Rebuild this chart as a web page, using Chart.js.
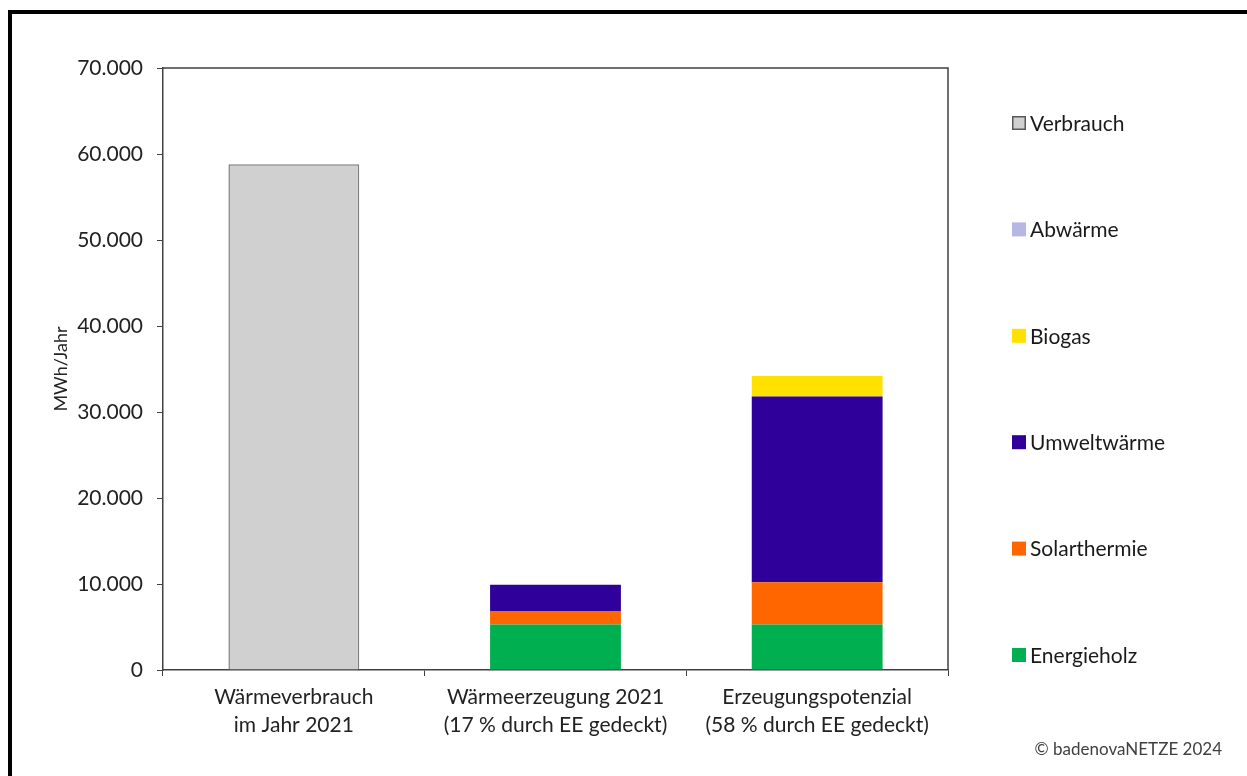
<!DOCTYPE html>
<html>
<head>
<meta charset="utf-8">
<script src="https://cdn.jsdelivr.net/npm/chart.js@4.4.1/dist/chart.umd.min.js"></script>
<style>
  html, body { margin: 0; padding: 0; background: #fff; }
  #wrap { position: relative; width: 1247px; height: 776px; }
</style>
</head>
<body>
<div id="wrap"><canvas id="heatChart"></canvas></div>
<script>
// Data (MWh/Jahr)
const categories = [
    ['Wärmeverbrauch', 'im Jahr 2021'],
    ['Wärmeerzeugung 2021', '(17 % durch EE gedeckt)'],
    ['Erzeugungspotenzial', '(58 % durch EE gedeckt)']
];
const energieholz = [null, 5300, 5300];
const solarthermie = [null, 1500, 4900];
const umweltwaerme = [null, 3100, 21600];
const biogas = [null, 0, 2400];
const abwaerme = [null, 0, 0];
const verbrauch = [58800, null, null];

const yMin = 0;
const yMax = 70000;
const yStep = 10000;
const yTitle = 'MWh/Jahr';
const copyright = '© badenovaNETZE 2024';

const FONT = 'Lato, "Open Sans", sans-serif';
Chart.defaults.font.family = FONT;
Chart.defaults.color = '#222';

// frame, plot box, right-hand legend and copyright
const extras = {
    id: 'extras',
    afterDraw(chart) {
        const { ctx, chartArea: a } = chart;
        ctx.save();

        // outer black frame (left + top)
        ctx.fillStyle = '#000';
        ctx.fillRect(8, 10, 4, 776);
        ctx.fillRect(8, 10, 1247, 4);

        // top + right edge of the plot box
        ctx.strokeStyle = '#404040';
        ctx.lineWidth = 1.5;
        ctx.beginPath();
        ctx.moveTo(a.left, a.top);
        ctx.lineTo(a.right, a.top);
        ctx.lineTo(a.right, a.bottom);
        ctx.stroke();

        // legend, top to bottom = reverse of stack order
        const items = chart.data.datasets.slice().reverse();
        const top = a.top + 55;
        const step = (a.bottom - 15 - top) / (items.length - 1);
        const bx = a.right + 64;
        ctx.font = '21px ' + FONT;
        ctx.textBaseline = 'middle';
        ctx.textAlign = 'left';
        items.forEach((ds, i) => {
            const y = top + i * step;
            ctx.fillStyle = ds.backgroundColor;
            ctx.fillRect(bx, y - 7, 14, 14);
            if (ds.borderWidth) {
                ctx.strokeStyle = '#595959';
                ctx.lineWidth = 1.5;
                ctx.strokeRect(bx + 0.75, y - 6.25, 12.5, 12.5);
            }
            ctx.fillStyle = '#1a1a1a';
            ctx.fillText(ds.label, bx + 18, y + 1);
        });

        // copyright
        ctx.font = '17px ' + FONT;
        ctx.fillStyle = '#404040';
        ctx.textAlign = 'right';
        ctx.fillText(copyright, 1222, 750);
        ctx.restore();
    }
};

const ctx = document.getElementById('heatChart').getContext('2d');
const heatChart = new Chart(ctx, {
    type: 'bar',
    data: {
        labels: categories,
        datasets: [
            { label: 'Energieholz', data: energieholz, backgroundColor: '#00b050' },
            { label: 'Solarthermie', data: solarthermie, backgroundColor: '#ff6600' },
            { label: 'Umweltwärme', data: umweltwaerme, backgroundColor: '#30009a' },
            { label: 'Biogas', data: biogas, backgroundColor: '#ffe100' },
            { label: 'Abwärme', data: abwaerme, backgroundColor: '#b7b7e3' },
            { label: 'Verbrauch', data: verbrauch, backgroundColor: '#d0d0d0',
              borderColor: '#7f7f7f', borderWidth: 1.5, borderSkipped: 'bottom' }
        ]
    },
    options: {
        responsive: true,
        maintainAspectRatio: false,
        animation: false,
        categoryPercentage: 0.5,
        barPercentage: 1,
        layout: {
            padding: { left: 46, top: 68, right: 299, bottom: 0 }
        },
        plugins: {
            legend: { display: false },
            tooltip: { enabled: false }
        },
        scales: {
            x: {
                stacked: true,
                grid: {
                    offset: true,
                    drawOnChartArea: false,
                    tickLength: 6,
                    color: '#404040'
                },
                border: { color: '#404040', width: 1.5 },
                ticks: {
                    padding: 8,
                    maxRotation: 0,
                    color: '#222',
                    font: { size: 21, lineHeight: 1.3 }
                },
                afterFit(scale) { scale.height = 106; }
            },
            y: {
                stacked: true,
                min: yMin,
                max: yMax,
                grid: {
                    drawOnChartArea: false,
                    tickLength: 6,
                    color: '#404040'
                },
                border: { color: '#404040', width: 1.5 },
                ticks: {
                    stepSize: yStep,
                    padding: 14,
                    color: '#222',
                    font: { size: 21 },
                    callback: v => v.toLocaleString('de-DE')
                },
                title: {
                    display: true,
                    text: yTitle,
                    color: '#222',
                    font: { size: 18 }
                },
                afterFit(scale) { scale.width = 117; }
            }
        }
    },
    plugins: [extras]
});
</script>
</body>
</html>
